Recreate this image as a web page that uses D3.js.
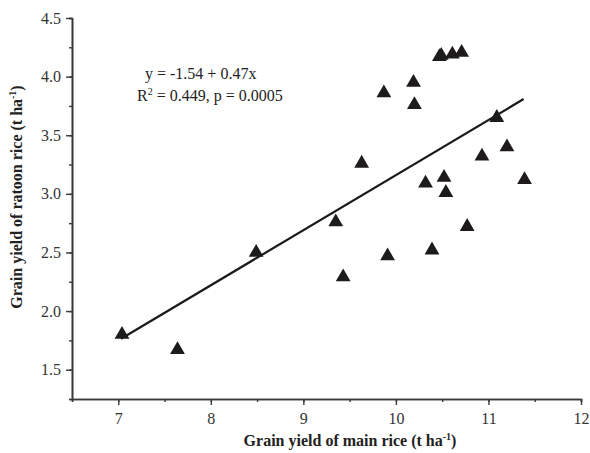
<!DOCTYPE html>
<html>
<head>
<meta charset="utf-8">
<script src="https://cdn.jsdelivr.net/npm/d3@7"></script>
<style>
	body { margin: 0; background: #fff; }
	text { font-family: "Liberation Serif", "Times New Roman", serif; }
</style>
</head>
<body>
<div id="chart"></div>
<script>
// main rice yield (x) and ratoon rice yield (y), t ha-1
const main_yield = [7.04, 7.64, 8.49, 9.35, 9.43, 9.63, 9.87, 9.91, 10.19, 10.2, 10.32, 10.39,
	10.47, 10.49, 10.61, 10.71, 10.52, 10.54, 10.77, 10.93, 11.09, 11.2, 11.39];
const ratoon_yield = [1.8, 1.67, 2.5, 2.76, 2.29, 3.26, 3.86, 2.47, 3.95, 3.76, 3.09, 2.52,
	4.17, 4.18, 4.19, 4.205, 3.14, 3.01, 2.72, 3.32, 3.65, 3.4, 3.12];
const fit = { intercept: -1.54, slope: 0.47, x0: 7.03, x1: 11.38 };
const x_ticks = [7, 8, 9, 10, 11, 12];
const y_ticks = [1.5, 2.0, 2.5, 3.0, 3.5, 4.0, 4.5];

const width = 590;
const height = 453;
const margin = { top: 18, right: 9, bottom: 54, left: 72 };

const svg = d3
	.select("#chart")
	.append("svg")
	.attr("width", width)
	.attr("height", height);

const x = d3
	.scaleLinear()
	.domain([6.5, 12])
	.range([margin.left, width - margin.right]);
const y = d3
	.scaleLinear()
	.domain([1.25, 4.5])
	.range([height - margin.bottom, margin.top]);

const axis_color = "#3a3a3a";

// minor ticks first, then major ticks with labels
const xMinor = svg
	.append("g")
	.attr("transform", `translate(0,${height - margin.bottom})`)
	.call(d3.axisBottom(x).tickValues(d3.range(6.5, 12.01, 0.5)).tickSize(3).tickFormat(""));
const xAxis = svg
	.append("g")
	.attr("transform", `translate(0,${height - margin.bottom})`)
	.call(d3.axisBottom(x).tickValues(x_ticks).tickSize(6).tickSizeOuter(0).tickPadding(8).tickFormat(d3.format("d")));
const yMinor = svg
	.append("g")
	.attr("transform", `translate(${margin.left},0)`)
	.call(d3.axisLeft(y).tickValues(d3.range(1.25, 4.51, 0.25)).tickSize(3).tickFormat(""));
const yAxis = svg
	.append("g")
	.attr("transform", `translate(${margin.left},0)`)
	.call(d3.axisLeft(y).tickValues(y_ticks).tickSize(6).tickSizeOuter(0).tickPadding(5).tickFormat(d3.format(".1f")));

[xMinor, xAxis, yMinor, yAxis].forEach(function (g) {
	g.selectAll("path").attr("stroke", axis_color).attr("stroke-width", 1.6);
	g.selectAll("line").attr("stroke", axis_color).attr("stroke-width", 1.4);
	g.selectAll("text")
		.attr("fill", "#333")
		.style("font-size", "16px")
		.style("font-family", '"Liberation Serif", serif');
});

// regression line
svg.append("line")
	.attr("x1", x(fit.x0))
	.attr("y1", y(fit.intercept + fit.slope * fit.x0))
	.attr("x2", x(fit.x1))
	.attr("y2", y(fit.intercept + fit.slope * fit.x1))
	.attr("stroke", "#1a1a1a")
	.attr("stroke-width", 2.2);

// triangles
const points = main_yield.map(function (d, i) {
	return { x: d, y: ratoon_yield[i] };
});
svg.append("g")
	.selectAll("path")
	.data(points)
	.join("path")
	.attr("transform", function (d) {
		return `translate(${x(d.x)},${y(d.y)})`;
	})
	.attr("d", d3.symbol(d3.symbolTriangle, 95))
	.attr("fill", "#1e1b1c");

// equation
svg.append("text")
	.attr("x", 145)
	.attr("y", 79)
	.attr("fill", "#222")
	.style("font-size", "16px")
	.text("y = -1.54 + 0.47x");
const r2 = svg.append("text")
	.attr("x", 137)
	.attr("y", 101)
	.attr("fill", "#222")
	.style("font-size", "16px");
r2.append("tspan").text("R");
r2.append("tspan").attr("dy", -6).style("font-size", "10px").text("2");
r2.append("tspan").attr("dy", 6).text(" = 0.449, p = 0.0005");

// axis titles
const xt = svg.append("text")
	.attr("x", 350)
	.attr("y", 446)
	.attr("text-anchor", "middle")
	.attr("fill", "#222")
	.style("font-size", "16px")
	.style("font-weight", "bold")
	.text("Grain yield of main rice (t ha");
xt.append("tspan").attr("dy", -6).style("font-size", "10px").text("-1");
xt.append("tspan").attr("dy", 6).text(")");

const yt = svg.append("text")
	.attr("transform", "translate(22,197) rotate(-90)")
	.attr("text-anchor", "middle")
	.attr("fill", "#222")
	.style("font-size", "16px")
	.style("font-weight", "bold")
	.text("Grain yield of ratoon rice (t ha");
yt.append("tspan").attr("dy", -6).style("font-size", "10px").text("-1");
yt.append("tspan").attr("dy", 6).text(")");
</script>
</body>
</html>
